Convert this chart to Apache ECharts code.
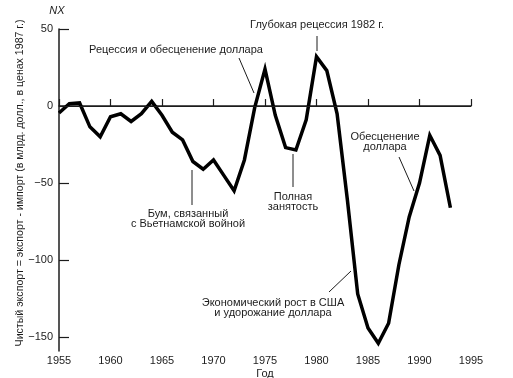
<!DOCTYPE html>
<html>
<head>
<meta charset="utf-8">
<script src="https://cdn.jsdelivr.net/npm/echarts@6/dist/echarts.min.js"></script>
<style>
  html, body { margin: 0; padding: 0; background: #fff; }
  #chart { width: 513px; height: 378px; }
</style>
</head>
<body>
<div id="chart"></div>
<script>
// годы и чистый экспорт NX (млрд долл., цены 1987 г.)
const years = [1955, 1956, 1957, 1958, 1959, 1960, 1961, 1962, 1963, 1964,
  1965, 1966, 1967, 1968, 1969, 1970, 1971, 1972, 1973, 1974,
  1975, 1976, 1977, 1978, 1979, 1980, 1981, 1982, 1983, 1984,
  1985, 1986, 1987, 1988, 1989, 1990, 1991, 1992, 1993]
const nx = [-4.5, 1.5, 2, -13.5, -20, -7, -5, -10, -5, 3,
  -6, -17, -22, -36, -41, -35, -45, -55, -35, -1,
  24, -6, -27, -28.5, -9, 32, 23, -5, -61, -122,
  -144, -154, -141, -103, -72, -50, -19, -32, -66]
const yTicks = [-150, -100, -50, 0, 50]

const ink = '#1c1c1c'
const font = '11px "Liberation Sans", Arial, sans-serif'

const chart = echarts.init(document.getElementById('chart'))

function txt(text, x, y, extra) {
  return {
    type: 'text',
    style: Object.assign({
      text: text, x: x, y: y, fill: ink, font: font,
      align: 'center', verticalAlign: 'middle', lineHeight: 10
    }, extra || {})
  }
}

function lead(x1, y1, x2, y2) {
  return {
    type: 'line',
    shape: { x1: x1, y1: y1, x2: x2, y2: y2 },
    style: { stroke: ink, lineWidth: 1 }
  }
}

const option = {
  backgroundColor: '#fff',
  animation: false,
  grid: { left: 59, right: 42, top: 29, bottom: 27, containLabel: false, outerBoundsMode: 'none' },
  xAxis: {
    type: 'value',
    min: 1955,
    max: 1995,
    interval: 5,
    name: 'Год',
    nameLocation: 'middle',
    nameGap: 17,
    nameMoveOverlap: false,
    nameTextStyle: { color: ink, fontSize: 11, fontFamily: 'Liberation Sans' },
    axisLine: { lineStyle: { color: ink, width: 1.5 } },
    axisTick: { inside: true, length: 7, lineStyle: { color: ink, width: 1.2 } },
    axisLabel: { color: ink, fontSize: 11, fontFamily: 'Liberation Sans', margin: 4, formatter: v => String(v) },
    splitLine: { show: false }
  },
  yAxis: {
    type: 'value',
    min: -159,
    max: 50,
    axisLine: { show: true, lineStyle: { color: ink, width: 1.5 } },
    axisTick: { show: true, inside: true, length: 10, customValues: yTicks, lineStyle: { color: ink, width: 1.2 } },
    axisLabel: {
      color: ink, fontSize: 11, fontFamily: 'Liberation Sans', margin: 6,
      customValues: yTicks,
      formatter: v => (v < 0 ? '\u2212' + Math.abs(v) : String(v))
    },
    splitLine: { show: false }
  },
  series: [{
    type: 'line',
    data: years.map((y, i) => [y, nx[i]]),
    symbol: 'none',
    lineStyle: { color: '#000', width: 3.5, join: 'miter' },
    markLine: {
      silent: true,
      symbol: 'none',
      label: { show: false },
      lineStyle: { color: ink, width: 1, type: 'solid' },
      data: [{ yAxis: 0 }]
    }
  }],
  graphic: [
    txt('NX', 57, 11, { font: 'italic 11px "Liberation Sans", Arial, sans-serif' }),
    txt('Чистый экспорт = экспорт - импорт (в млрд. долл., в ценах 1987 г.)', 0, 0, {
      font: '10.6px "Liberation Sans", Arial, sans-serif'
    }),
    txt('Глубокая рецессия 1982 г.', 317, 25),
    lead(317, 36, 317, 51),
    txt('Рецессия и обесценение доллара', 176, 50),
    lead(239, 58, 254, 93),
    txt('Бум, связанный\nс Вьетнамской войной', 188, 219),
    lead(192, 170, 192, 205),
    txt('Полная\nзанятость', 293, 202),
    lead(293, 154, 293, 187),
    txt('Обесценение\nдоллара', 385, 142),
    lead(399, 157, 414, 191),
    txt('Экономический рост в США\nи удорожание доллара', 273, 308),
    lead(329, 292, 351, 271)
  ]
}

// подпись оси Y повернута
option.graphic[1].x = 20
option.graphic[1].y = 183
option.graphic[1].rotation = Math.PI / 2

chart.setOption(option)
</script>
</body>
</html>
